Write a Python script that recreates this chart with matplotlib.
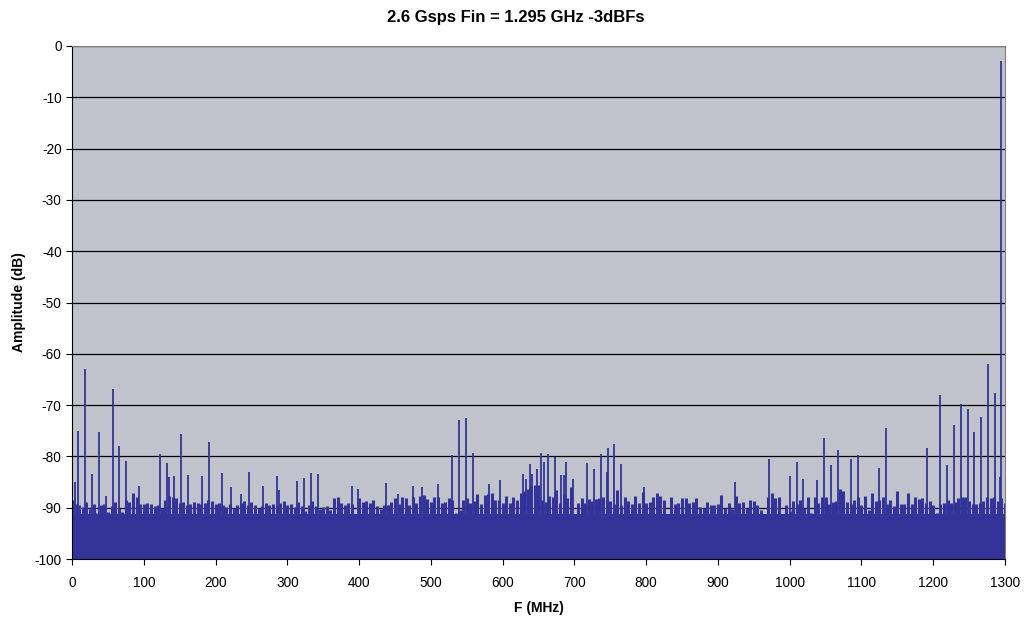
import numpy as np
import matplotlib
matplotlib.use("Agg")
import matplotlib.pyplot as plt

plt.rcParams['font.family'] = ['Liberation Sans', 'DejaVu Sans']
plt.rcParams['axes.unicode_minus'] = False

# noise floor: solid level, plus top of noise read every 5 MHz (0 .. 1300)
noise_floor = -91.2
noise_step = 5
noise_top = [
    -88.5, -89.2, -89.5, -89.8, -88.9, -90.2, -89.3, -91.1, -89.5, -89.2,
    -90.8, -89.7, -88.9, -90.0, -90.8, -88.5, -88.9, -87.2, -88.0, -89.2,
    -89.2, -89.0, -89.3, -89.6, -89.5, -90.0, -88.5, -87.8, -88.0, -88.2,
    -89.0, -88.8, -89.4, -89.2, -88.9, -89.0, -89.3, -89.0, -88.4, -88.7,
    -89.3, -89.0, -89.5, -89.8, -89.2, -90.0, -89.5, -89.0, -88.6, -89.4,
    -88.8, -89.5, -90.0, -89.6, -89.0, -89.5, -89.3, -89.6, -89.0, -88.6,
    -89.4, -89.3, -89.8, -88.9, -89.6, -90.6, -89.4, -88.6, -89.7, -90.2,
    -89.8, -89.6, -90.5, -88.2, -88.0, -89.0, -89.4, -89.0, -89.2, -91.4,
    -88.2, -88.8, -88.6, -89.0, -88.4, -89.7, -90.2, -89.5, -89.4, -88.8,
    -88.2, -89.2, -88.0, -88.1, -89.4, -88.0, -89.0, -87.8, -87.6, -88.3,
    -88.9, -88.0, -87.9, -89.0, -88.8, -88.2, -88.5, -91.0, -90.4, -88.5,
    -88.2, -89.1, -88.6, -87.4, -89.2, -87.6, -87.4, -87.2, -88.5, -88.4,
    -89.0, -87.8, -89.0, -87.9, -88.4, -87.2, -86.7, -86.4, -85.8, -85.5,
    -85.6, -88.4, -88.8, -87.8, -87.9, -86.6, -89.0, -87.5, -88.1, -86.0,
    -92.0, -89.0, -88.2, -89.0, -88.3, -88.6, -88.3, -88.2, -87.9, -88.5,
    -88.6, -89.2, -86.5, -89.4, -88.0, -88.6, -89.2, -87.8, -89.0, -87.0,
    -89.0, -88.9, -88.0, -87.1, -87.8, -88.4, -91.6, -88.0, -89.3, -89.0,
    -88.2, -88.2, -89.1, -88.9, -88.2, -89.8, -90.0, -88.8, -89.4, -89.4,
    -89.2, -87.6, -90.0, -89.0, -90.2, -87.8, -89.0, -88.9, -90.0, -88.4,
    -88.6, -89.5, -90.4, -91.4, -88.0, -87.2, -88.2, -88.0, -91.2, -89.4,
    -90.6, -88.6, -89.2, -88.5, -90.0, -88.0, -91.1, -88.0, -89.0, -88.0,
    -88.0, -89.2, -88.9, -88.6, -86.4, -86.8, -88.8, -89.2, -88.5, -88.0,
    -89.5, -87.8, -90.4, -87.2, -88.6, -88.4, -88.0, -89.2, -88.4, -89.6,
    -86.8, -89.2, -89.2, -87.2, -89.3, -88.0, -88.3, -88.2, -89.0, -88.6,
    -89.5, -91.0, -89.2, -89.0, -88.4, -89.0, -88.9, -88.2, -88.0, -88.0,
    -88.7, -89.2, -89.2, -89.0, -88.6, -88.0, -88.2, -88.0, -88.6, -88.2,
    -89.0,
]

# spurs (MHz, dB)
spur_f = [0, 4.2, 8.8, 18.1, 27.4, 37.6, 47, 56.7, 65.9, 75.2, 94,
          123, 132, 134.7, 142, 151.4, 161.6, 180.7, 190.4, 209, 221.5,
          235, 247, 266, 285.6, 289, 313.5, 323, 333, 342.7, 390, 399,
          437.5, 454, 475.6, 488, 510.4, 529.5, 538.8, 549, 558.3, 580.6,
          596.3, 628, 632, 637.7, 641.6, 647.4, 653.5, 657.6, 663.2, 673,
          682, 685.5, 688.7, 698, 717.6, 727.3, 736.6, 745, 746.3, 755.2,
          765, 797, 923.8, 971.2, 1000.4, 1009.7, 1019, 1037.6, 1047.3,
          1057, 1066.8, 1085, 1094.7, 1124, 1133.7, 1190.8, 1209.4, 1218.6,
          1228.4, 1238.2, 1247.9, 1257, 1266.5, 1276.2, 1286, 1293, 1295]
spur_db = [0, -85.0, -75.0, -63.0, -83.4, -75.3, -87.7, -66.8, -77.9, -80.8, -85.8,
           -79.6, -81.2, -84.1, -83.8, -75.6, -83.7, -83.8, -77.1, -83.2, -86.0,
           -87.4, -83.1, -85.7, -83.8, -86.5, -84.8, -84.2, -83.2, -83.4, -85.8, -86.4,
           -85.2, -87.3, -85.8, -86.0, -85.4, -79.7, -72.9, -72.6, -79.4, -85.3,
           -84.6, -83.4, -84.5, -81.4, -83.4, -82.5, -79.4, -81.0, -79.6, -80.2,
           -83.7, -83.7, -81.0, -84.5, -81.2, -82.5, -79.5, -83.0, -78.4, -77.5,
           -81.4, -86.0, -85.0, -80.6, -83.8, -81.0, -84.5, -84.6, -76.5,
           -81.7, -78.8, -80.6, -79.8, -82.3, -74.5, -78.4, -68.1, -81.7,
           -73.9, -69.7, -70.8, -75.2, -72.3, -62.0, -67.7, -84.0, -2.9]

yticks = list(range(-100, 1, 10))
xticks = list(range(0, 1301, 100))

blue = '#333399'

fig = plt.figure(figsize=(10.32, 6.19), dpi=100)
ax = fig.add_axes([0.0698, 0.0969, 0.9040, 0.8288])
ax.set_facecolor('#C0C3CB')

nf = np.arange(len(noise_top)) * noise_step
ax.axhspan(-100, noise_floor, color=blue, linewidth=0)
ax.vlines(nf, -100, noise_top, color=blue, linewidth=2.2)
ax.vlines(spur_f, -100, spur_db, color=blue, linewidth=1.3)

ax.set_xlim(0, 1300)
ax.set_ylim(-100, 0)
ax.set_xticks(xticks)
ax.set_yticks(yticks)
ax.tick_params(direction='out', length=4, labelsize=9.8, colors='black')
ax.tick_params(axis='x', pad=8)
ax.grid(axis='y', color='black', linewidth=0.9)
ax.set_axisbelow(True)
for s in ['top', 'right']:
    ax.spines[s].set_color('#808080')
for s in ['left', 'bottom']:
    ax.spines[s].set_color('black')

ax.set_xlabel('F (MHz)', fontsize=10, fontweight='bold', labelpad=8)
ax.set_ylabel('Amplitude (dB)', fontsize=10, fontweight='bold', labelpad=6)
fig.text(0.5, 0.972, '2.6 Gsps Fin = 1.295 GHz -3dBFs', ha='center', va='center',
         fontsize=12, fontweight='bold')

fig.savefig('out.png', dpi=100)
